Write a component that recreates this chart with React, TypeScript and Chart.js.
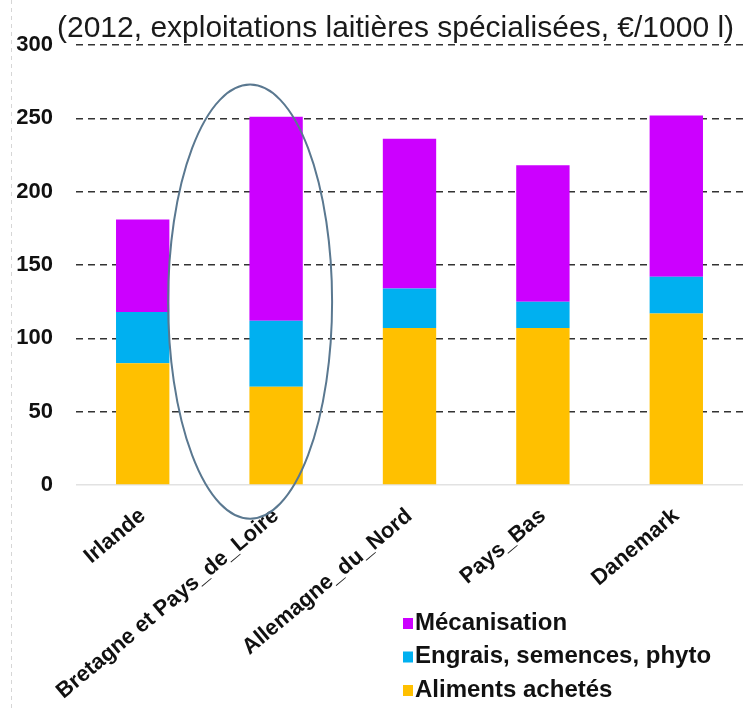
import React, { useEffect, useRef } from 'react';
import { Chart, registerables } from 'chart.js';

Chart.register(...registerables);

const TITLE = '(2012, exploitations laitières spécialisées, €/1000 l)';
const CATEGORIES = ['Irlande', 'Bretagne et Pays_de_Loire', 'Allemagne_du_Nord', 'Pays_Bas', 'Danemark'];
const ALIMENTS = [83, 67, 107, 107, 117];
const ENGRAIS = [35, 45, 27, 18, 25];
const MECANISATION = [63, 139, 102, 93, 110];
const SERIES_LABELS = ['Aliments achetés', 'Engrais, semences, phyto', 'Mécanisation'];
const SERIES_COLORS = ['#FFC000', '#00B0F0', '#CC00FF'];
const Y_MIN = 0;
const Y_MAX = 300;
const Y_STEP = 50;
const HIGHLIGHT_INDEX = 1;

const FONT = '"Liberation Sans", Arial, sans-serif';

const decorPlugin = {
  id: 'decor',
  beforeDraw(chart: any) {
    const { ctx } = chart;
    ctx.save();
    ctx.strokeStyle = '#d6d6d6';
    ctx.lineWidth = 1;
    ctx.setLineDash([4, 4]);
    ctx.beginPath();
    ctx.moveTo(11.5, 0);
    ctx.lineTo(11.5, chart.height);
    ctx.stroke();
    ctx.restore();
  },
  afterDatasetsDraw(chart: any) {
    const { ctx } = chart;
    const xs = chart.scales.x;
    const ys = chart.scales.y;
    const cx = xs.getPixelForValue(HIGHLIGHT_INDEX) - 26;
    const cy = ys.getPixelForValue(125);
    const ry = ys.getPixelForValue(0) - ys.getPixelForValue(148);
    ctx.save();
    ctx.strokeStyle = '#5a7890';
    ctx.lineWidth = 2;
    ctx.beginPath();
    ctx.ellipse(cx, cy, 82, ry, 0, 0, Math.PI * 2);
    ctx.stroke();
    ctx.restore();
  },
  afterDraw(chart: any) {
    const { ctx } = chart;
    ctx.save();
    // title
    ctx.fillStyle = '#1a1a1a';
    ctx.font = `30px ${FONT}`;
    ctx.textAlign = 'left';
    ctx.textBaseline = 'alphabetic';
    ctx.fillText(TITLE, 57, 37);
    // legend (reversed order)
    ctx.font = `bold 24px ${FONT}`;
    ctx.textBaseline = 'middle';
    const n = SERIES_LABELS.length;
    for (let k = 0; k < n; k++) {
      const i = n - 1 - k;
      const y = 623 + k * 33.5;
      ctx.fillStyle = SERIES_COLORS[i];
      ctx.fillRect(403, y - 5, 10, 11);
      ctx.fillStyle = '#111';
      ctx.fillText(SERIES_LABELS[i], 415, y);
    }
    ctx.restore();
  },
};

export default function App() {
  const ref = useRef<HTMLCanvasElement>(null);
  useEffect(() => {
    if (!ref.current) return;
    const seriesData = [ALIMENTS, ENGRAIS, MECANISATION];
    const chart = new Chart(ref.current, {
      type: 'bar',
      data: {
        labels: CATEGORIES,
        datasets: SERIES_LABELS.map((label, i) => ({
          label,
          data: seriesData[i],
          backgroundColor: SERIES_COLORS[i],
          borderWidth: 0,
          barPercentage: 0.4,
          categoryPercentage: 1,
        })),
      },
      options: {
        responsive: false,
        animation: false,
        layout: { padding: { top: 45, left: 0, right: 1, bottom: 0 } },
        plugins: {
          legend: { display: false },
          title: { display: false },
          tooltip: { enabled: false },
        },
        scales: {
          x: {
            stacked: true,
            grid: { display: false, drawTicks: false },
            border: { display: false },
            ticks: {
              minRotation: 40,
              maxRotation: 40,
              padding: 18,
              color: '#111',
              font: { family: FONT, size: 22, weight: 'bold' },
            },
            afterFit(scale: any) {
              scale.height = 224;
            },
          },
          y: {
            stacked: true,
            min: Y_MIN,
            max: Y_MAX,
            ticks: {
              stepSize: Y_STEP,
              padding: 23,
              color: '#111',
              font: { family: FONT, size: 22, weight: 'bold' },
            },
            grid: {
              drawTicks: false,
              lineWidth: 1.5,
              color: (c: any) => (c.tick && c.tick.value === 0 ? '#e2e2e2' : '#333'),
            },
            border: {
              display: false,
              dash: (c: any) => (c.tick && c.tick.value === 0 ? [] : [7, 5]),
            },
            afterFit(scale: any) {
              scale.width = 76;
            },
          },
        },
      },
      plugins: [decorPlugin],
    } as any);
    return () => chart.destroy();
  }, []);
  return (
    <div style={{ position: 'absolute', left: 0, top: 0, width: 744, height: 709, background: '#fff' }}>
      <canvas ref={ref} width={744} height={709} style={{ display: 'block' }} />
    </div>
  );
}
